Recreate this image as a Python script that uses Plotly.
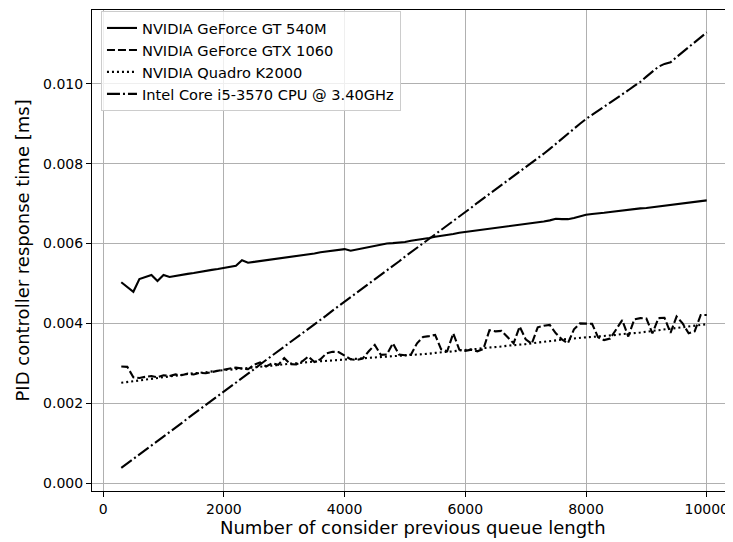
import plotly.graph_objects as go

queue_length = list(range(300, 10001, 100))

gt540m = [
    0.00503, 0.00491, 0.00479, 0.00511, 0.00516, 0.00521, 0.00506, 0.00521, 0.00516, 0.00519,
    0.00521, 0.00524, 0.00526, 0.00529, 0.00531, 0.00534, 0.00536, 0.00539, 0.00541, 0.00544,
    0.00558, 0.00552, 0.00554, 0.00556, 0.00558, 0.00561, 0.00563, 0.00565, 0.00567, 0.00569,
    0.00571, 0.00573, 0.00575, 0.00578, 0.00580, 0.00582, 0.00584, 0.00586, 0.00582, 0.00585,
    0.00588, 0.00591, 0.00594, 0.00597, 0.00600, 0.00601, 0.00602, 0.00604, 0.00607, 0.00609,
    0.00612, 0.00614, 0.00617, 0.00619, 0.00622, 0.00624, 0.00627, 0.00629, 0.00631, 0.00633,
    0.00635, 0.00637, 0.00639, 0.00641, 0.00643, 0.00645, 0.00647, 0.00648, 0.00650, 0.00652,
    0.00655, 0.00658, 0.00662, 0.00661, 0.00661, 0.00664, 0.00668, 0.00672, 0.00674, 0.00675,
    0.00677, 0.00679, 0.00681, 0.00682, 0.00684, 0.00686, 0.00688, 0.00689, 0.00691, 0.00693,
    0.00695, 0.00696, 0.00698, 0.00700, 0.00703, 0.00705, 0.00707, 0.00708,
]

gtx1060 = [
    0.00292, 0.00291, 0.00265, 0.00263, 0.00266, 0.00268, 0.00265, 0.00270, 0.00268, 0.00272,
    0.00270, 0.00274, 0.00272, 0.00276, 0.00275, 0.00278, 0.00282, 0.00285, 0.00287, 0.00289,
    0.00287, 0.00285, 0.00296, 0.00302, 0.00292, 0.00300, 0.00296, 0.00313, 0.00298, 0.00297,
    0.00305, 0.00317, 0.00303, 0.00310, 0.00325, 0.00329, 0.00328, 0.00318, 0.00310, 0.00308,
    0.00312, 0.00330, 0.00346, 0.00321, 0.00322, 0.00350, 0.00322, 0.00320, 0.00322, 0.00350,
    0.00366, 0.00368, 0.00371, 0.00335, 0.00330, 0.00375, 0.00334, 0.00331, 0.00334, 0.00330,
    0.00336, 0.00383, 0.00380, 0.00381, 0.00365, 0.00350, 0.00392, 0.00360, 0.00349, 0.00390,
    0.00394, 0.00396, 0.00375, 0.00360, 0.00350, 0.00385, 0.00400, 0.00400, 0.00399, 0.00365,
    0.00358, 0.00362, 0.00385, 0.00408, 0.00367, 0.00410, 0.00413, 0.00412, 0.00375, 0.00413,
    0.00414, 0.00376, 0.00417, 0.00400, 0.00375, 0.00380, 0.00421, 0.00421,
]

k2000 = [
    0.00251, 0.00253, 0.00255, 0.00258, 0.00260, 0.00262, 0.00264, 0.00266, 0.00268, 0.00270,
    0.00271, 0.00273, 0.00275, 0.00276, 0.00278, 0.00279, 0.00281, 0.00283, 0.00284, 0.00286,
    0.00287, 0.00288, 0.00290, 0.00291, 0.00293, 0.00294, 0.00296, 0.00297, 0.00299, 0.00300,
    0.00302, 0.00303, 0.00304, 0.00305, 0.00306, 0.00307, 0.00308, 0.00309, 0.00310, 0.00311,
    0.00312, 0.00313, 0.00314, 0.00315, 0.00316, 0.00317, 0.00318, 0.00319, 0.00320, 0.00321,
    0.00323, 0.00324, 0.00326, 0.00327, 0.00329, 0.00330, 0.00332, 0.00333, 0.00335, 0.00336,
    0.00338, 0.00339, 0.00341, 0.00342, 0.00344, 0.00345, 0.00347, 0.00348, 0.00350, 0.00352,
    0.00354, 0.00356, 0.00358, 0.00360, 0.00361, 0.00362, 0.00364, 0.00365, 0.00366, 0.00367,
    0.00369, 0.00370, 0.00371, 0.00373, 0.00374, 0.00376, 0.00377, 0.00379, 0.00381, 0.00383,
    0.00384, 0.00386, 0.00388, 0.00390, 0.00392, 0.00394, 0.00396, 0.00398,
]

i5_3570 = [
    0.00038, 0.00049, 0.00060, 0.00072, 0.00083, 0.00094, 0.00105, 0.00117, 0.00128, 0.00139,
    0.00150, 0.00162, 0.00173, 0.00184, 0.00195, 0.00207, 0.00218, 0.00229, 0.00240, 0.00252,
    0.00263, 0.00274, 0.00285, 0.00297, 0.00308, 0.00319, 0.00330, 0.00342, 0.00353, 0.00364,
    0.00375, 0.00387, 0.00398, 0.00409, 0.00420, 0.00432, 0.00443, 0.00454, 0.00465, 0.00477,
    0.00488, 0.00499, 0.00510, 0.00522, 0.00533, 0.00544, 0.00555, 0.00567, 0.00578, 0.00589,
    0.00600, 0.00612, 0.00623, 0.00634, 0.00645, 0.00657, 0.00668, 0.00679, 0.00690, 0.00702,
    0.00713, 0.00724, 0.00735, 0.00747, 0.00758, 0.00769, 0.00780, 0.00792, 0.00803, 0.00814,
    0.00825, 0.00837, 0.00850, 0.00862, 0.00875, 0.00887, 0.00900, 0.00912, 0.00922, 0.00933,
    0.00943, 0.00953, 0.00963, 0.00974, 0.00984, 0.00995, 0.01005, 0.01018, 0.01031, 0.01043,
    0.01050, 0.01054, 0.01067, 0.01079, 0.01092, 0.01104, 0.01117, 0.01129,
]

series_names = [
    "NVIDIA GeForce GT 540M",
    "NVIDIA GeForce GTX 1060",
    "NVIDIA Quadro K2000",
    "Intel Core i5-3570 CPU @ 3.40GHz",
]
series_values = [gt540m, gtx1060, k2000, i5_3570]
dash_styles = ["solid", "8px,3px", "2px,3px", "13px,3px,2px,3px"]

x_ticks = [0, 2000, 4000, 6000, 8000, 10000]
y_ticks = [0.000, 0.002, 0.004, 0.006, 0.008, 0.010]

x_title = "Number of consider previous queue length"
y_title = "PID controller response time [ms]"

FONT = "DejaVu Sans"

fig = go.Figure()
for name, vals, dash in zip(series_names, series_values, dash_styles):
    fig.add_trace(go.Scatter(
        x=queue_length, y=vals, name=name, mode="lines",
        line=dict(color="black", width=2.1, dash=dash),
    ))

# the page body adds an 8px offset, so the figure is sized to fit inside it
fig.update_layout(
    width=725, height=534,
    margin=dict(l=84, r=0, t=2, b=51, autoexpand=False),
    paper_bgcolor="white", plot_bgcolor="white",
    font=dict(family=FONT, size=14, color="black"),
    showlegend=True,
    legend=dict(
        x=0.014, y=0.998, xanchor="left", yanchor="top",
        bgcolor="rgba(255,255,255,0.8)", bordercolor="#cccccc", borderwidth=1,
        font=dict(family=FONT, size=14.6, color="black"),
        tracegroupgap=0,
    ),
    annotations=[
        dict(text=x_title, xref="paper", yref="paper", x=0.5, y=0.0,
             xanchor="center", yanchor="middle", yshift=-36, showarrow=False,
             font=dict(family=FONT, size=18, color="black")),
        dict(text=y_title, xref="paper", yref="paper", x=0, y=0.5,
             xanchor="center", yanchor="middle", xshift=-70, textangle=-90,
             showarrow=False, font=dict(family=FONT, size=18, color="black")),
    ],
)

fig.update_xaxes(
    range=[-185, 10435], automargin=False,
    tickvals=x_ticks, ticktext=[str(v) for v in x_ticks],
    ticks="outside", ticklen=5, tickwidth=1.1, tickcolor="black",
    showline=True, linecolor="black", linewidth=1.1, mirror=True,
    showgrid=True, gridcolor="#b0b0b0", gridwidth=1.1,
    zeroline=False,
    tickfont=dict(family=FONT, size=14),
)
fig.update_yaxes(
    range=[-0.0002, 0.01185], automargin=False,
    tickvals=y_ticks, ticktext=["%.3f" % v for v in y_ticks],
    ticks="outside", ticklen=5, tickwidth=1.1, tickcolor="black",
    showline=True, linecolor="black", linewidth=1.1, mirror=False,
    showgrid=True, gridcolor="#b0b0b0", gridwidth=1.1,
    zeroline=False,
    tickfont=dict(family=FONT, size=14),
)

fig.write_html("out.html")
